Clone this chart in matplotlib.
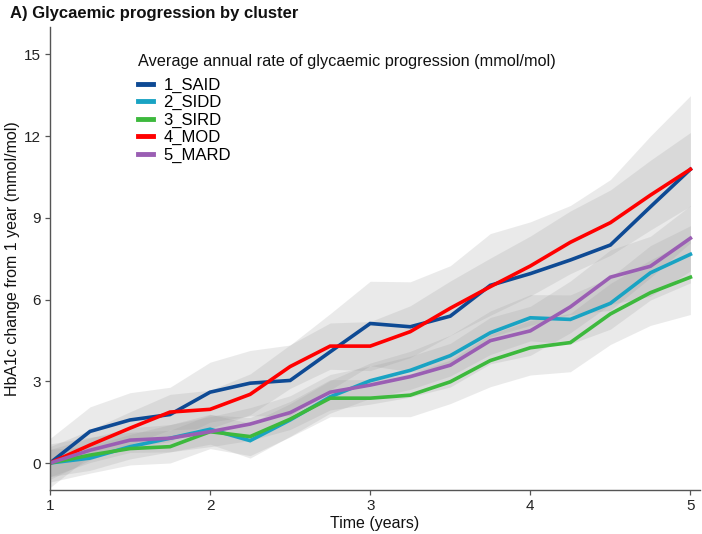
import numpy as np
import matplotlib
matplotlib.use("Agg")
import matplotlib.pyplot as plt

plt.rcParams["font.family"] = ["Liberation Sans", "DejaVu Sans"]

years = [1, 1.25, 1.5, 1.75, 2, 2.25, 2.5, 2.75, 3, 3.25, 3.5, 3.75, 4, 4.25, 4.5, 4.75, 5]

said = [0, 1.16, 1.58, 1.78, 2.6, 2.93, 3.03, 4.08, 5.12, 5.0, 5.39, 6.52, 6.95, 7.45, 8.0, 9.4, 10.78]
sidd = [0, 0.18, 0.6, 0.91, 1.24, 0.82, 1.58, 2.43, 3.02, 3.4, 3.94, 4.78, 5.33, 5.27, 5.86, 6.98, 7.66]
sird = [0, 0.29, 0.53, 0.6, 1.15, 0.97, 1.61, 2.38, 2.38, 2.49, 2.98, 3.76, 4.23, 4.42, 5.47, 6.25, 6.82]
mod = [0, 0.66, 1.28, 1.87, 1.97, 2.52, 3.54, 4.29, 4.29, 4.82, 5.68, 6.47, 7.23, 8.1, 8.82, 9.83, 10.78]
mard = [0, 0.47, 0.84, 0.91, 1.15, 1.43, 1.85, 2.6, 2.86, 3.17, 3.59, 4.49, 4.85, 5.73, 6.82, 7.22, 8.25]

# half-widths of the confidence ribbons
said_ci = [0.9, 0.9, 1.0, 1.0, 1.1, 1.2, 1.3, 1.4, 1.55, 1.65, 1.85, 1.9, 1.9, 2.0, 2.4, 2.6, 2.7]
sidd_ci = [0.5, 0.45, 0.45, 0.5, 0.55, 0.64, 0.6, 0.6, 0.65, 0.7, 0.75, 0.8, 0.85, 0.9, 0.95, 1.0, 1.05]
sird_ci = [0.7, 0.66, 0.6, 0.6, 0.62, 0.7, 0.65, 0.68, 0.68, 0.79, 0.8, 0.96, 1.0, 1.07, 1.12, 1.2, 1.37]
mod_ci = [0.6, 0.55, 0.6, 0.65, 0.7, 0.75, 0.8, 0.85, 0.9, 0.95, 1.0, 1.05, 1.1, 1.15, 1.2, 1.28, 1.35]
mard_ci = [0.5, 0.45, 0.45, 0.5, 0.55, 0.6, 0.62, 0.65, 0.7, 0.75, 0.8, 0.85, 0.9, 0.95, 1.0, 1.1, 1.2]

labels = ["1_SAID", "2_SIDD", "3_SIRD", "4_MOD", "5_MARD"]
series = [said, sidd, sird, mod, mard]
cis = [said_ci, sidd_ci, sird_ci, mod_ci, mard_ci]
colors = ["#0E4A94", "#19A3C3", "#3DB93D", "#FF0000", "#9A5EB3"]

fig = plt.figure(figsize=(7.02, 5.34), dpi=100)
ax = fig.add_axes([0.0712, 0.0824, 0.926, 0.867])

x = np.array(years)
for y, ci in zip(series, cis):
    y = np.array(y)
    ci = np.array(ci)
    ax.fill_between(x, y - ci, y + ci, color="#999999", alpha=0.2, linewidth=0)

for y, lab, c in zip(series, labels, colors):
    ax.plot(x, y, color=c, linewidth=2.6, label=lab, solid_joinstyle="miter")

ax.set_xlim(1, 5.06)
ax.set_ylim(-0.99, 16.0)
ax.set_xticks([1, 2, 3, 4, 5])
ax.set_yticks([0, 3, 6, 9, 12, 15])

for side in ["top", "right"]:
    ax.spines[side].set_visible(False)
for side in ["left", "bottom"]:
    ax.spines[side].set_color("#555555")
    ax.spines[side].set_linewidth(1.0)
ax.tick_params(axis="both", colors="#555555", length=3.5, width=0.9,
               labelsize=11, labelcolor="#222222", pad=3)

ax.set_xlabel("Time (years)", fontsize=11.5, color="#111111", labelpad=2)
ax.set_ylabel("HbA1c change from 1 year (mmol/mol)", fontsize=11.5, color="#111111")
ax.yaxis.set_label_coords(-0.046, 0.5)

fig.text(0.014, 0.975, "A) Glycaemic progression by cluster", fontsize=12,
         fontweight="bold", ha="left", va="center", color="#111111")

# legend title drawn separately so the gap below it can be set
ax.text(0.135, 0.925, "Average annual rate of glycaemic progression (mmol/mol)",
        transform=ax.transAxes, fontsize=11.7, ha="left", va="center", color="#111111")
leg = ax.legend(loc="upper left", bbox_to_anchor=(0.136, 0.891), frameon=False,
                fontsize=12, handlelength=0.85, handletextpad=0.65,
                labelspacing=0.14, borderaxespad=0, borderpad=0)
for h in leg.get_lines():
    h.set_linewidth(3.5)

fig.savefig("out.png", dpi=100)
